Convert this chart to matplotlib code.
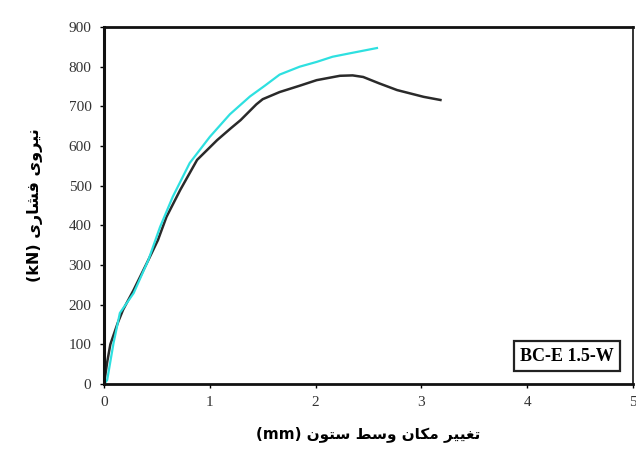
import matplotlib.pyplot as plt
import numpy as np

# data (displacement mm, force kN)
black_x = [0, 0.03, 0.06, 0.13, 0.18, 0.28, 0.42, 0.51, 0.59, 0.72, 0.88, 1.07, 1.2, 1.29, 1.44, 1.5, 1.66, 1.85, 2.01, 2.23, 2.35, 2.45, 2.6, 2.77, 3.02, 3.18]
black_y = [0, 55, 100, 154, 187, 237, 313, 363, 421, 489, 565, 615, 645, 665, 705, 718, 736, 752, 766, 777, 778, 774, 758, 741, 724, 716]

cyan_x = [0, 0.03, 0.09, 0.15, 0.28, 0.42, 0.53, 0.65, 0.81, 1.0, 1.19, 1.38, 1.52, 1.66, 1.85, 2.01, 2.16, 2.33, 2.58]
cyan_y = [0, 10, 103, 179, 229, 313, 396, 472, 557, 623, 680, 725, 752, 780, 800, 812, 825, 834, 847]

x_ticks = [0, 1, 2, 3, 4, 5]
y_ticks = list(range(0, 901, 100))

# Persian labels written in presentation forms (matplotlib does no shaping)
w_niroo = "\uFBFC\uFEED\uFEAE\uFBFF\uFEE7"
w_feshari = "\uFBFC\uFEAD\uFE8E\uFEB8\uFED3"
ylabel = "(kN) " + w_feshari + " " + w_niroo

w_taghir = "\uFEAE\uFBFF\uFBFF\uFED0\uFE97"
w_makan = "\uFEE5\uFE8E\uFB91\uFEE3"
w_vasat = "\uFEC2\uFEB3\uFEED"
w_sotoon = "\uFEE5\uFEEE\uFE98\uFEB3"
xlabel = "(mm) " + w_sotoon + " " + w_vasat + " " + w_makan + " " + w_taghir

fig = plt.figure(figsize=(6.36, 4.54), dpi=100)
ax = fig.add_axes([104/636, 1 - 384/454, 529/636, 357/454])

ax.plot(black_x, black_y, color="#2a2a2a", linewidth=1.8)
ax.plot(cyan_x, cyan_y, color="#2ee0e0", linewidth=1.6)

ax.set_xlim(0, 5)
ax.set_ylim(0, 900)
ax.set_xticks(x_ticks)
ax.set_yticks(y_ticks)

tick_font = {"family": "Liberation Serif", "size": 11, "color": "#333333"}
ax.set_xticklabels([str(t) for t in x_ticks], **tick_font)
ax.set_yticklabels([str(t) for t in y_ticks], **tick_font)
ax.tick_params(direction="out", length=3, width=1, pad=6)

ax.spines["left"].set_linewidth(2.2)
ax.spines["bottom"].set_linewidth(2.0)
ax.spines["top"].set_linewidth(2.0)
ax.spines["right"].set_linewidth(1.2)
for s in ax.spines.values():
    s.set_color("#111111")

ax.set_ylabel(ylabel, family=["DejaVu Sans"], fontsize=11.5, fontweight="bold")
ax.yaxis.set_label_coords(-0.115, 0.5)
ax.set_xlabel(xlabel, family=["DejaVu Sans"], fontsize=11, fontweight="bold", labelpad=12)

ax.text(0.875, 0.078, "BC-E 1.5-W", transform=ax.transAxes, ha="center", va="center",
        family="Liberation Serif", fontsize=13, fontweight="bold",
        bbox=dict(boxstyle="square,pad=0.35", facecolor="white", edgecolor="#222222", linewidth=1.6))

fig.savefig("out.png", dpi=100)
